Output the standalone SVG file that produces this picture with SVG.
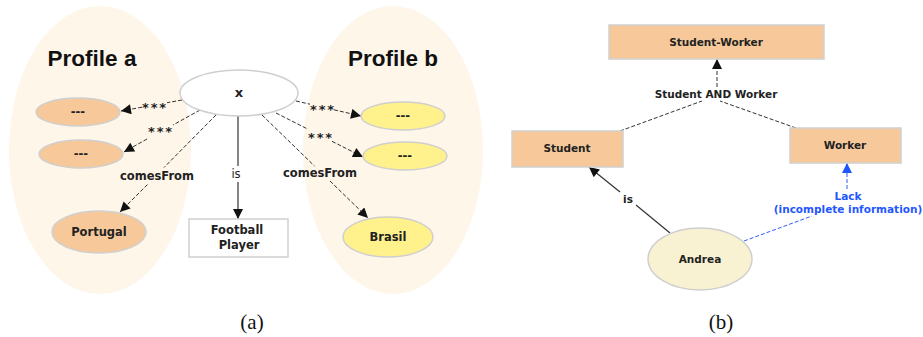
<svg xmlns="http://www.w3.org/2000/svg" width="923" height="337" viewBox="0 0 923 337">
  <style>
    .bg { fill: #fef6e9; stroke: none; }
    .title { font-family: "Liberation Sans", Arial, sans-serif; font-weight: bold; font-size: 22.5px; fill: #111; text-anchor: middle; }
    .lbl { font-family: "DejaVu Sans", Verdana, sans-serif; font-weight: bold; font-size: 10.5px; fill: #222; text-anchor: middle; }
    .lblA { font-family: "DejaVu Sans", Verdana, sans-serif; font-weight: bold; font-size: 11.5px; fill: #222; text-anchor: middle; }
    .stars { font-family: "DejaVu Sans", Verdana, sans-serif; font-weight: bold; font-size: 13px; fill: #222; text-anchor: middle; letter-spacing: 1.8px; }
    .blue { fill: #1f57ff; }
    .cap { font-family: "Liberation Serif", "Times New Roman", serif; font-size: 21px; fill: #111; text-anchor: middle; }
    .orange { fill: #f7c99a; stroke: #cfcfcf; stroke-width: 1.5; }
    .yellow { fill: #fff18c; stroke: #cfcfcf; stroke-width: 1.5; }
    .white { fill: #ffffff; stroke: #cfcfcf; stroke-width: 1.5; }
    .cream { fill: #f8f2d2; stroke: #cfcfcf; stroke-width: 1.5; }
    .dash { fill: none; stroke: #333; stroke-width: 1; stroke-dasharray: 4 2; }
    .solid { fill: none; stroke: #333; stroke-width: 1.2; }
    .bdash { fill: none; stroke: #2a5cff; stroke-width: 1; stroke-dasharray: 4 2; }
  </style>
  <defs>
    <marker id="arr" viewBox="0 0 10 10" refX="10" refY="5" markerWidth="11" markerHeight="10" markerUnits="userSpaceOnUse" orient="auto">
      <path d="M0,0 L10,5 L0,10 z" fill="#111"/>
    </marker>
    <marker id="arrBlue" viewBox="0 0 10 10" refX="10" refY="5" markerWidth="10" markerHeight="10" markerUnits="userSpaceOnUse" orient="auto">
      <path d="M0,0 L10,5 L0,10 z" fill="#1f57ff"/>
    </marker>
  </defs>

  <!-- panel (a): profile regions -->
  <g id="profile-a">
    <ellipse class="bg" cx="100" cy="150" rx="91" ry="144"/>
    <text class="title" x="92" y="66">Profile a</text>
  </g>
  <g id="profile-b">
    <ellipse class="bg" cx="393" cy="150" rx="90" ry="144"/>
    <text class="title" x="393" y="66">Profile b</text>
  </g>

  <!-- panel (a): connectors, each broken where its label sits -->
  <g id="connectors-a">
    <path class="dash" d="M182,100 L167,102.7"/>
    <path class="dash" d="M142,107.2 L121,111" marker-end="url(#arr)"/>
    <path class="dash" d="M200,110 L173,125"/>
    <path class="dash" d="M147,139 L124,152" marker-end="url(#arr)"/>
    <path class="dash" d="M216,115 L164,167.5"/>
    <path class="dash" d="M147.5,184.5 L120,212" marker-end="url(#arr)"/>
    <path class="solid" d="M238,116 L238,166"/>
    <path class="solid" d="M238,182 L238,219" marker-end="url(#arr)"/>
    <path class="dash" d="M296,101 L310,104.2"/>
    <path class="dash" d="M334,109.8 L361,116" marker-end="url(#arr)"/>
    <path class="dash" d="M276,113 L308,129.2"/>
    <path class="dash" d="M332,141.3 L363,157" marker-end="url(#arr)"/>
    <path class="dash" d="M262,115 L314.5,166"/>
    <path class="dash" d="M330,181 L368,218" marker-end="url(#arr)"/>
    <text class="stars" x="155" y="111.5">***</text>
    <text class="stars" x="161" y="135.5">***</text>
    <text class="lblA" x="157" y="180">comesFrom</text>
    <text class="lblA" x="236" y="178" style="font-weight:normal">is</text>
    <text class="stars" x="323" y="113.5">***</text>
    <text class="stars" x="321" y="141.5">***</text>
    <text class="lblA" x="320" y="177">comesFrom</text>
  </g>

  <!-- panel (a): nodes -->
  <g id="x">
    <ellipse class="white" cx="239" cy="93" rx="59" ry="23"/>
    <text class="lblA" x="239" y="97" style="font-size:13px">x</text>
  </g>
  <g id="a1">
    <ellipse class="orange" cx="78" cy="112" rx="42" ry="14"/>
    <text class="lblA" x="78" y="116">---</text>
  </g>
  <g id="a2">
    <ellipse class="orange" cx="81" cy="154" rx="42" ry="14"/>
    <text class="lblA" x="81" y="158">---</text>
  </g>
  <g id="portugal">
    <ellipse class="orange" cx="99" cy="232" rx="47" ry="21"/>
    <text class="lblA" x="99" y="236">Portugal</text>
  </g>
  <g id="b1">
    <ellipse class="yellow" cx="403" cy="116" rx="42" ry="14"/>
    <text class="lblA" x="403" y="120">---</text>
  </g>
  <g id="b2">
    <ellipse class="yellow" cx="405" cy="156" rx="42" ry="14"/>
    <text class="lblA" x="405" y="160">---</text>
  </g>
  <g id="brasil">
    <ellipse class="yellow" cx="388" cy="237" rx="45" ry="20"/>
    <text class="lblA" x="388" y="241">Brasil</text>
  </g>
  <g id="football-player">
    <rect class="white" x="189" y="219" width="99" height="38"/>
    <text class="lblA" x="237" y="234">Football</text>
    <text class="lblA" x="239" y="249">Player</text>
  </g>

  <!-- panel (b): connectors -->
  <g id="connectors-b">
    <line class="dash" x1="620" y1="131" x2="702" y2="101"/>
    <line class="dash" x1="796" y1="128" x2="720" y2="101"/>
    <line class="dash" x1="717" y1="87" x2="717" y2="59" marker-end="url(#arr)"/>
    <text class="lbl" x="716" y="98">Student AND Worker</text>
    <line class="solid" x1="670" y1="233" x2="636" y2="205"/>
    <line class="solid" x1="620" y1="192" x2="589" y2="167" marker-end="url(#arr)"/>
    <text class="lbl" x="628" y="203">is</text>
    <line class="bdash" x1="744" y1="241" x2="812" y2="216"/>
    <line class="bdash" x1="847" y1="189" x2="847" y2="163" marker-end="url(#arrBlue)"/>
    <text class="lbl blue" x="848" y="200">Lack</text>
    <text class="lbl blue" x="848" y="213">(incomplete information)</text>
  </g>

  <!-- panel (b): nodes -->
  <g id="student-worker">
    <rect class="orange" x="609" y="25" width="215" height="34"/>
    <text class="lbl" x="716" y="46">Student-Worker</text>
  </g>
  <g id="student">
    <rect class="orange" x="512" y="131" width="111" height="36"/>
    <text class="lbl" x="567" y="152">Student</text>
  </g>
  <g id="worker">
    <rect class="orange" x="790" y="128" width="111" height="35"/>
    <text class="lbl" x="845" y="149">Worker</text>
  </g>
  <g id="andrea">
    <ellipse class="cream" cx="700" cy="259" rx="52" ry="31"/>
    <text class="lbl" x="700" y="263">Andrea</text>
  </g>

  <!-- captions -->
  <text class="cap" x="252" y="329">(a)</text>
  <text class="cap" x="721" y="329">(b)</text>
</svg>
